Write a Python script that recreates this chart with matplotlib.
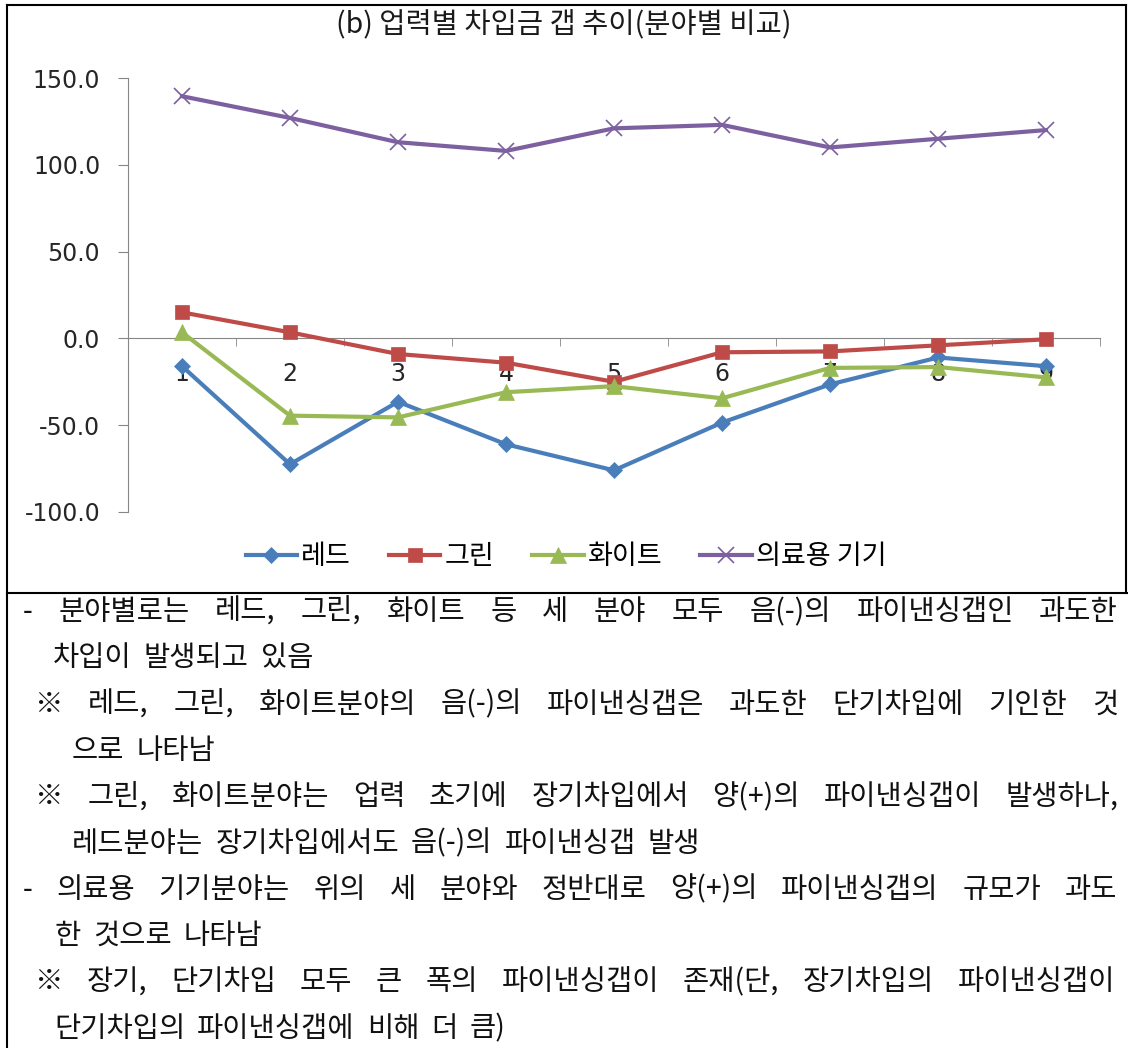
import matplotlib
matplotlib.use('Agg')
import matplotlib.pyplot as plt
from matplotlib.lines import Line2D

plt.rcParams['font.family'] = ['Noto Sans CJK KR', 'DejaVu Sans']

# data
periods = [1, 2, 3, 4, 5, 6, 7, 8, 9]
red_field = [-16, -72.5, -36.5, -61, -76, -48.5, -26.5, -11, -16]
green_field = [15, 3.5, -9, -14, -25, -8, -7.5, -4, -0.5]
white_field = [3.5, -44.5, -45.5, -31, -27.5, -34.5, -17, -16.5, -22.5]
medical_field = [139.5, 127, 113, 108, 121, 123, 110, 115, 120]
series_names = ['레드', '그린', '화이트', '의료용 기기']
y_ticks = [-100, -50, 0, 50, 100, 150]

title = '(b) 업력별 차입금 갭 추이(분야별 비교)'

W, H = 1128, 1048
fig = plt.figure(figsize=(W / 100, H / 100), dpi=100)


def fx(px):
    return px / W


def fy(py):
    return 1 - py / H


gray = '#868686'
ax = fig.add_axes([fx(128), fy(512), fx(1100) - fx(128), fy(78) - fy(512)])

styles = [
    ('#4A7EBB', 'D', 8, 0.5),
    ('#BE4B48', 's', 10, 0.5),
    ('#98B954', '^', 11, 0.5),
    ('#7D60A0', 'x', 12, 1.2),
]
for name, vals, (col, mk, ms, mew) in zip(series_names,
                                          [red_field, green_field, white_field, medical_field],
                                          styles):
    ax.plot(periods, vals, color=col, lw=3, marker=mk, ms=ms, mew=mew,
            mec=col, mfc=col, label=name, zorder=3)

ax.set_xlim(0.5, 9.5)
ax.set_ylim(-100, 150)
for s in ['top', 'right']:
    ax.spines[s].set_visible(False)
ax.spines['bottom'].set_position(('data', 0))
ax.spines['bottom'].set_color(gray)
ax.spines['left'].set_color(gray)

ax.set_yticks(y_ticks, [f'{v:.1f}' for v in y_ticks], fontfamily='DejaVu Sans', fontsize=17)
ax.set_xticks(periods, [str(p) for p in periods], fontfamily='DejaVu Sans', fontsize=17)
ax.set_xticks([p - 0.5 for p in periods] + [9.5], minor=True)
ax.tick_params(axis='y', direction='out', length=7, color=gray, pad=13, labelcolor='#262626')
ax.tick_params(axis='x', which='major', length=0, pad=17, labelcolor='#262626')
ax.tick_params(axis='x', which='minor', length=6, direction='out', color=gray)
ax.patch.set_alpha(0)

fig.text(fx(564), fy(25), title, ha='center', va='center', fontsize=20.5, color='#1a1a1a')

fig.legend(*ax.get_legend_handles_labels(), loc='center', bbox_to_anchor=(fx(566), fy(557)),
           ncol=4, frameon=False, fontsize=19.5, handlelength=1.9, handletextpad=0.15,
           columnspacing=1.4)

# frame lines
for (x0, y0, x1, y1) in [(7, 5, 7, 1048), (7, 5, 1126, 5), (1126, 5, 1126, 593), (7, 593, 1128, 593)]:
    fig.add_artist(Line2D([fx(x0), fx(x1)], [fy(y0), fy(y1)], color='black', lw=1.5))

renderer = fig.canvas.get_renderer()


def put_words(text, y, x0, x1=None, gap=12, size=20.5):
    words = text.split(' ')
    texts = [fig.text(0, fy(y), w, fontsize=size, va='center', ha='left', color='#111111')
             for w in words]
    widths = [t.get_window_extent(renderer).width for t in texts]
    if x1 is not None and len(words) > 1:
        gap = (x1 - x0 - sum(widths)) / (len(words) - 1)
    x = x0
    for t, w in zip(texts, widths):
        t.set_x(fx(x))
        x += w + gap


body = [
    ('- 분야별로는 레드, 그린, 화이트 등 세 분야 모두 음(-)의 파이낸싱갭인 과도한', 23, 1118),
    ('차입이 발생되고 있음', 53, None),
    ('※ 레드, 그린, 화이트분야의 음(-)의 파이낸싱갭은 과도한 단기차입에 기인한 것', 35, 1118),
    ('으로 나타남', 72, None),
    ('※ 그린, 화이트분야는 업력 초기에 장기차입에서 양(+)의 파이낸싱갭이 발생하나,', 35, 1118),
    ('레드분야는 장기차입에서도 음(-)의 파이낸싱갭 발생', 72, None),
    ('- 의료용 기기분야는 위의 세 분야와 정반대로 양(+)의 파이낸싱갭의 규모가 과도', 23, 1117),
    ('한 것으로 나타남', 55, None),
    ('※ 장기, 단기차입 모두 큰 폭의 파이낸싱갭이 존재(단, 장기차입의 파이낸싱갭이', 35, 1115),
    ('단기차입의 파이낸싱갭에 비해 더 큼)', 54, None),
]
for i, (line, x0, x1) in enumerate(body):
    put_words(line, 612 + 46.3 * i, x0, x1)

fig.savefig('out.png', dpi=100)
